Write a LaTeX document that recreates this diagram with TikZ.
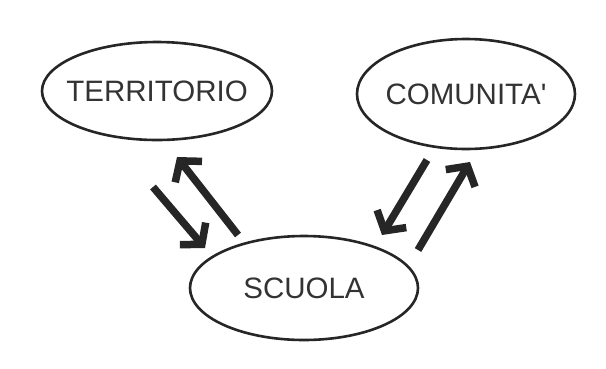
\documentclass[tikz,border=0pt]{standalone}
\usepackage{fontspec}
\setmainfont{Liberation Sans}
\usetikzlibrary{shapes.geometric,arrows.meta}
\definecolor{ink}{HTML}{262626}
\definecolor{txt}{HTML}{333333}
\tikzset{
  bubble/.style={ellipse, draw=ink, line width=2.6pt, inner sep=0pt},
  bubbletext/.style={text=txt, inner sep=0pt, font=\fontsize{29.5}{31}\selectfont},
  bigarrow/.style={draw=ink, line width=7.5pt, line cap=butt,
    -{Straight Barb[length=14pt,width=34pt,line width=7.5pt]}}
}
\begin{document}
\begin{tikzpicture}[x=1pt,y=-1pt]
\useasboundingbox (0,0) rectangle (606,368);
\node[bubble, minimum width=230pt, minimum height=98pt,
  label={[bubbletext]center:TERRITORIO}] (terr) at (157,91) {};
\node[bubble, minimum width=218pt, minimum height=110pt,
  label={[bubbletext]center:COMUNITA\textquotesingle}] (com) at (466,94) {};
\node[bubble, minimum width=228pt, minimum height=104pt,
  label={[bubbletext]center:SCUOLA}] (scu) at (304,288) {};
\coordinate (a1s) at (153,187);
\coordinate (a1e) at (205,248);
\coordinate (a2s) at (238,235);
\coordinate (a2e) at (177,157);
\coordinate (a3s) at (427,160);
\coordinate (a3e) at (382,235);
\coordinate (a4s) at (418,250);
\coordinate (a4e) at (470,162);
\draw[bigarrow] (a1s) -- (a1e);
\draw[bigarrow] (a2s) -- (a2e);
\draw[bigarrow] (a3s) -- (a3e);
\draw[bigarrow] (a4s) -- (a4e);
\end{tikzpicture}
\end{document}
